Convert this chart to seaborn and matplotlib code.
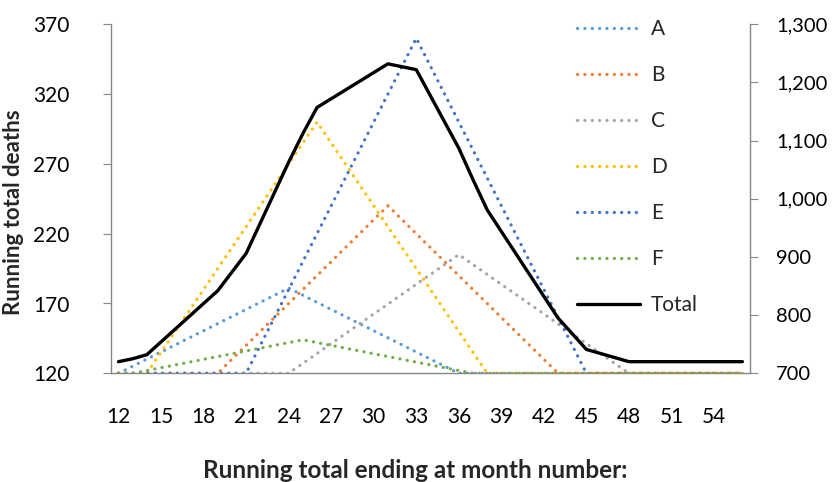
import matplotlib
matplotlib.use("Agg")
import matplotlib.pyplot as plt
import numpy as np
import pandas as pd
import seaborn as sns
from matplotlib.ticker import FixedLocator

# ---- data (vertices) ----
months_A = [12, 24, 36, 56]
vals_A = [120, 181, 120, 120]
months_B = [12, 19, 31, 43, 56]
vals_B = [120, 120, 240, 120, 120]
months_C = [12, 24, 36, 48, 56]
vals_C = [120, 120, 205, 120, 120]
months_D = [12, 14, 26, 38, 56]
vals_D = [120, 120, 300, 120, 120]
months_E = [12, 21, 33, 45, 56]
vals_E = [120, 120, 360, 120, 120]
months_F = [12, 13, 25, 37, 56]
vals_F = [120, 120, 144, 120, 120]
months_total = [12, 13, 14, 19, 21, 24, 25, 26, 31, 33, 36, 37, 38, 43, 45, 48, 56]
vals_total = [720, 725, 732, 842, 906, 1063, 1112, 1157, 1232, 1222, 1087, 1033, 981, 795, 741, 720, 720]

series_names = ["A", "B", "C", "D", "E", "F"]
series_colors = ["#5B9BD5", "#ED7D31", "#A5A5A5", "#FFC000", "#4472C4", "#70AD47"]
left_ticks = [120, 170, 220, 270, 320, 370]
right_ticks = [700, 800, 900, 1000, 1100, 1200, 1300]
x_labels = list(range(12, 55, 3))

frames = []
for name, m, v in zip(series_names,
                      [months_A, months_B, months_C, months_D, months_E, months_F],
                      [vals_A, vals_B, vals_C, vals_D, vals_E, vals_F]):
    frames.append(pd.DataFrame({"month": m, "value": v, "series": name}))
df = pd.concat(frames, ignore_index=True)
df_total = pd.DataFrame({"month": months_total, "value": vals_total, "series": "Total"})

sns.set_style("white")
plt.rcParams["font.family"] = ["Lato", "DejaVu Sans"]

W, H = 832, 482
fig = plt.figure(figsize=(W / 100, H / 100), dpi=100)
left, right, top, bottom = 111.4, 749.5, 24.3, 373.3
ax = fig.add_axes([left / W, 1 - bottom / H, (right - left) / W, (bottom - top) / H])

sns.lineplot(data=df, x="month", y="value", hue="series", style="series",
             palette=dict(zip(series_names, series_colors)),
             dashes={n: (0.05, 2.25) for n in series_names},
             estimator=None, sort=False, linewidth=2.3, legend=False, ax=ax)
for ln in ax.get_lines():
    ln.set_dash_capstyle("round")

ax2 = ax.twinx()
sns.lineplot(data=df_total, x="month", y="value", color="black", linewidth=2.4,
             estimator=None, sort=False, legend=False, ax=ax2)

ax.set_xlim(11.5, 56.5)
ax.set_ylim(120, 370)
ax2.set_ylim(700, 1300)

spine_c = "#868686"
for a in (ax, ax2):
    for s in a.spines.values():
        s.set_color(spine_c)
        s.set_linewidth(1.0)
    a.spines["top"].set_visible(False)
ax.spines["right"].set_visible(False)
ax2.spines["left"].set_visible(False)
ax2.spines["bottom"].set_visible(False)

ax.set_yticks(left_ticks)
ax.set_yticklabels([str(t) for t in left_ticks])
ax2.set_yticks(right_ticks)
ax2.set_yticklabels([f"{t:,}" for t in right_ticks])

ax.xaxis.set_major_locator(FixedLocator(x_labels))
ax.set_xticklabels([str(t) for t in x_labels])
ax.xaxis.set_minor_locator(FixedLocator(np.arange(11.5, 57, 1.0)))
ax.tick_params(axis="x", which="major", length=0, pad=24, labelsize=15, colors="black")
ax.tick_params(axis="x", which="minor", length=6, width=0.8, color=spine_c, direction="out")
ax.tick_params(axis="y", length=6, width=0.8, color=spine_c, direction="out", pad=24,
               labelsize=15, labelcolor="black")
ax2.tick_params(axis="y", length=6, width=0.8, color=spine_c, direction="out", pad=13,
                labelsize=14.5, labelcolor="black")

ax.set_xlabel("")
ax.set_ylabel("")
ax2.set_ylabel("")
ax.grid(False)
ax2.grid(False)

fig.text(415 / W, 1 - 470 / H, "Running total ending at month number:", fontsize=17.5,
         fontweight="bold", ha="center", va="center")
fig.text(14 / W, 1 - 212 / H, "Running total deaths", fontsize=16, fontweight="bold",
         ha="center", va="center", rotation=90)

handles = list(ax.get_lines()) + list(ax2.get_lines())
labels = series_names + ["Total"]
fig.legend(handles, labels, loc="upper left", bbox_to_anchor=(577 / W, 1 - 19 / H),
           frameon=False, fontsize=15, handlelength=3.0, handletextpad=0.55,
           labelspacing=1.25, borderpad=0, borderaxespad=0)

fig.savefig("out.png", dpi=100)
